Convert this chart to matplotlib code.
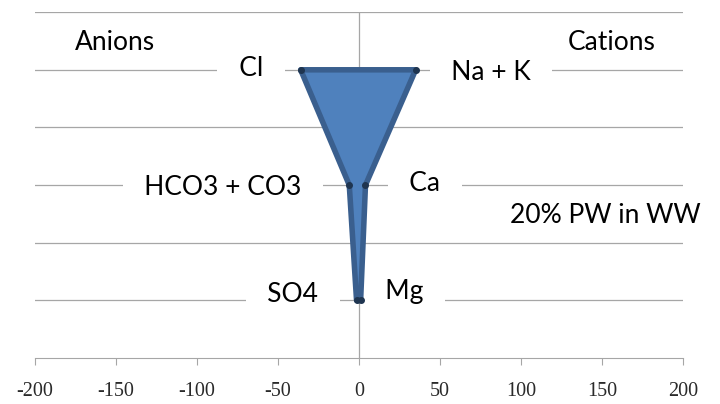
import matplotlib
matplotlib.use("Agg")
import matplotlib.pyplot as plt
from matplotlib.patches import Polygon

anions = ["Cl", "HCO3 + CO3", "SO4"]
cations = ["Na + K", "Ca", "Mg"]
anion_vals = [-36, -6, -1.5]
cation_vals = [35, 4, 1]
levels = [5, 3, 1]
xticks = [-200, -150, -100, -50, 0, 50, 100, 150, 200]

plt.rcParams['font.family'] = ['Lato', 'DejaVu Sans']
fig = plt.figure(figsize=(7.2, 4.04), dpi=100)
ax = fig.add_axes([0.0486, 0.1139, 0.9, 0.856])
ax.set_xlim(-200, 200)
ax.set_ylim(0, 6)

for y in range(1, 7):
    ax.axhline(y, color='#a6a6a6', lw=0.9, zorder=1)
ax.axvline(0, color='#a6a6a6', lw=0.9, zorder=1)

pts = [(a, l) for a, l in zip(anion_vals, levels)] + \
      [(c, l) for c, l in zip(cation_vals[::-1], levels[::-1])]
poly = Polygon(pts, closed=True, facecolor='#4F81BD', edgecolor='#3A5F8E',
               lw=4, joinstyle='round', zorder=3)
ax.add_patch(poly)
ax.plot(anion_vals + cation_vals, levels + levels, 'o', color='#1f3550',
        ms=4, zorder=4)

bb = dict(facecolor='white', edgecolor='none', pad=6)
fs = 19
pad = "\u2002"
def lab(x, y, s, box=True):
    if box:
        ax.text(x, y, pad + s + pad, ha='center', va='center', fontsize=fs,
                bbox=bb, zorder=2)
    else:
        ax.text(x, y, s, ha='center', va='center', fontsize=fs, zorder=2)

lab(-150.6, 5.47, "Anions", box=False)
lab(156, 5.47, "Cations", box=False)
lab(-66.7, 5.02, anions[0])
lab(81.5, 4.95, cations[0])
lab(-84, 2.95, anions[1])
lab(40.7, 3.03, cations[1])
lab(152, 2.48, "20% PW in WW", box=False)
lab(-41, 1.1, anions[2])
lab(27.8, 1.15, cations[2])

for s in ['top', 'right', 'left']:
    ax.spines[s].set_visible(False)
ax.spines['bottom'].set_color('#a6a6a6')
ax.spines['bottom'].set_position(('data', 0))
ax.set_yticks([])
ax.set_xticks(xticks)
ax.set_xticklabels([str(t) for t in xticks], fontfamily='Liberation Serif',
                   fontsize=14.5, color='#2a2a2a')
ax.tick_params(axis='x', direction='out', length=5, color='#a6a6a6', pad=12)

fig.savefig("out.png", dpi=100)
